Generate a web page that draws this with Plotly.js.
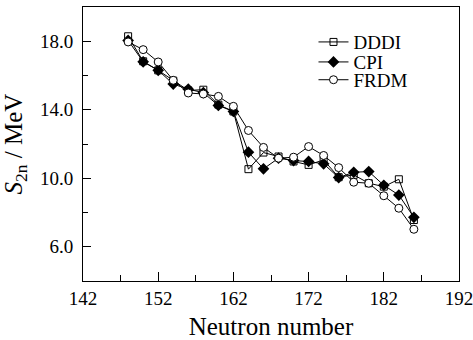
<!DOCTYPE html>
<html>
<head>
<meta charset="utf-8">
<script src="https://cdn.plot.ly/plotly-3.0.1.min.js"></script>
<style>html,body{margin:0;padding:0;background:#fff;}#chart{width:473px;height:340px;}</style>
</head>
<body>
<div id="chart"></div>
<script>
const neutronNumber = [148,150,152,154,156,158,160,162,164,166,168,170,172,174,176,178,180,182,184,186];
const dddi = [18.29,16.83,16.3,15.7,15.13,15.17,14.3,13.9,10.53,11.5,11.27,10.98,10.78,11.07,10.06,10.2,9.71,9.51,9.94,7.56];
const cpi  = [18.05,16.8,16.3,15.5,15.2,15.0,14.25,13.9,11.52,10.55,11.17,11.03,10.98,10.84,10.04,10.35,10.39,9.59,9.02,7.72];
const frdm = [17.96,17.51,16.79,15.72,14.98,14.92,14.78,14.2,12.79,11.8,11.17,11.23,11.85,11.33,10.62,9.77,9.71,8.98,8.25,7.02];
const xTicks = [142,152,162,172,182,192];
const yTicks = [6,10,14,18];
const yTickText = ['6.0','10.0','14.0','18.0'];

const font = 'Liberation Serif';
const line = {color:'#000', width:1};
const traces = [
  {x:neutronNumber, y:dddi, name:'DDDI', mode:'lines+markers', line:line, legend:'legend',
   marker:{symbol:'square-open', size:7, color:'#000', line:{width:1}}},
  {x:neutronNumber, y:cpi, name:'CPI', mode:'lines+markers', line:line, legend:'legend2',
   marker:{symbol:'diamond', size:9, color:'#000'}},
  {x:neutronNumber, y:frdm, name:'FRDM', mode:'lines+markers', line:line, legend:'legend3',
   marker:{symbol:'circle', size:8, color:'#fff', line:{color:'#000', width:1}}}
];
function leg(y){
  return {x:0.613, y:y, xanchor:'left', yanchor:'middle', bgcolor:'rgba(0,0,0,0)',
          font:{family:font, size:19, color:'#000'}, itemwidth:30, borderwidth:0};
}
const layout = {
  width:473, height:340,
  margin:{l:83, r:14, t:7, b:59},
  paper_bgcolor:'#fff', plot_bgcolor:'#fff',
  font:{family:font, size:19, color:'#000'},
  showlegend:true,
  legend:leg(0.872), legend2:leg(0.799), legend3:leg(0.734),
  xaxis:{range:[142,192], tickvals:xTicks, ticktext:xTicks.map(String),
         ticks:'inside', ticklen:9, tickwidth:1, tickcolor:'#000', ticklabeloverflow:'allow',
         minor:{dtick:5, tick0:142, ticks:'inside', ticklen:6, tickwidth:1, tickcolor:'#000'},
         showgrid:false, zeroline:false, showline:true, linecolor:'#000', linewidth:1, mirror:true,
         tickfont:{family:font, size:19, color:'#000'},
         title:{text:'Neutron number', font:{family:font, size:25, color:'#000'}, standoff:10}},
  yaxis:{range:[4,20], tickvals:yTicks, ticktext:yTickText,
         ticks:'inside', ticklen:8, tickwidth:1, tickcolor:'#000', ticklabeloverflow:'allow',
         minor:{tickvals:[8,12,16], ticks:'inside', ticklen:5, tickwidth:1, tickcolor:'#000'},
         showgrid:false, zeroline:false, showline:true, linecolor:'#000', linewidth:1, mirror:true,
         tickfont:{family:font, size:19, color:'#000'}, ticklabelstandoff:5,
         title:{text:'<i>S</i><sub>2n</sub> / MeV', font:{family:font, size:25, color:'#000'}, standoff:10}}
};
Plotly.newPlot('chart', traces, layout, {displayModeBar:false, staticPlot:true});
</script>
</body>
</html>
